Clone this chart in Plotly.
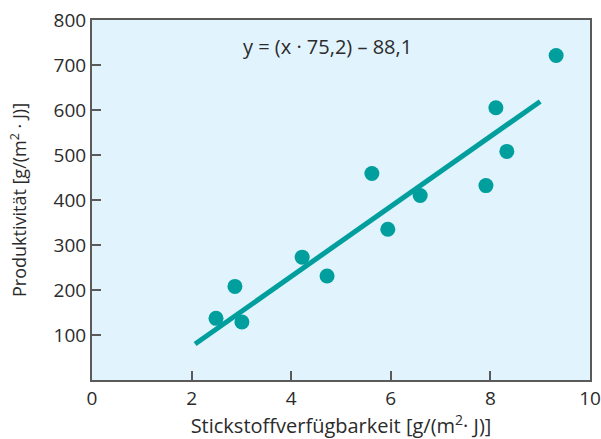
import plotly.graph_objects as go

x_vals = [2.49, 2.87, 3.01, 4.22, 4.72, 5.62, 5.94, 6.59, 7.91, 8.11, 8.33, 9.32]
y_vals = [137, 208, 129, 273, 231, 459, 335, 410, 432, 605, 508, 721]
line_x = [2.07, 9.0]
line_y = [80, 619]
x_ticks = [0, 2, 4, 6, 8, 10]
y_ticks = [100, 200, 300, 400, 500, 600, 700, 800]

teal = "#009E9C"
axis_col = "#5a5a5a"
txt = "#2b2b2b"
font = "Open Sans"

fig = go.Figure()
fig.add_trace(go.Scatter(x=line_x, y=line_y, mode="lines",
                         line=dict(color=teal, width=5), hoverinfo="skip"))
fig.add_trace(go.Scatter(x=x_vals, y=y_vals, mode="markers",
                         marker=dict(color=teal, size=15, line=dict(width=0))))

fig.add_annotation(text="y = (x · 75,2) – 88,1", x=4.72, y=742, xref="x", yref="y",
                   showarrow=False, font=dict(family=font, size=20, color=txt))

fig.update_layout(
    template="none",
    width=601, height=439,
    margin=dict(l=92, r=11, t=20, b=59),
    paper_bgcolor="white", plot_bgcolor="#E1F3FD",
    showlegend=False,
    font=dict(family=font, size=18, color=txt),
)
fig.update_xaxes(range=[0, 10], tickvals=x_ticks, ticktext=[str(v) for v in x_ticks],
                 showgrid=False, zeroline=False, showline=True, linecolor=axis_col,
                 linewidth=2, mirror=True, ticks="inside", ticklen=9, tickwidth=1.5,
                 tickcolor=axis_col, tickfont=dict(size=19), automargin=False,
                 title=dict(text="Stickstoffverfügbarkeit [g/(m<sup>2</sup>· J)]",
                            font=dict(size=20), standoff=10))
fig.update_yaxes(range=[0, 800], tickvals=y_ticks, ticktext=[str(v) for v in y_ticks],
                 showgrid=False, zeroline=False, showline=True, linecolor=axis_col,
                 linewidth=2, mirror=True, ticks="inside", ticklen=9, tickwidth=1.5,
                 tickcolor=axis_col, tickfont=dict(size=19), automargin=False,
                 title=dict(text="Produktivität [g/(m<sup>2</sup> · J)]",
                            font=dict(size=18), standoff=22))

fig.write_html("out.html")
